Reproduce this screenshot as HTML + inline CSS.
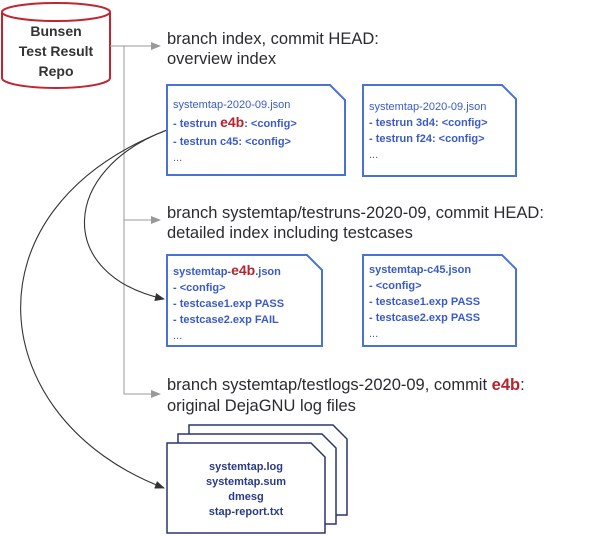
<!DOCTYPE html>
<html><head><meta charset="utf-8"><style>
html,body{margin:0;padding:0;background:#fff;}
svg{display:block;font-family:"Liberation Sans",sans-serif;}
.h{font-size:16.5px;fill:#2b2b30;}
.b{font-size:11px;fill:#3a5bc7;}
.c{font-size:11px;fill:#2a3a8a;font-weight:bold;}
.r{fill:#b8242c;font-size:14px;font-weight:bold;}
.box{fill:#fff;stroke:#4a72d6;stroke-width:2;}
.sbox{fill:#fff;stroke:#2a3570;stroke-width:1.5;}
</style></head><body>
<svg width="600" height="536" viewBox="0 0 600 536">
<defs>
<marker id="ga" markerWidth="10" markerHeight="8" refX="9" refY="4" orient="auto" markerUnits="userSpaceOnUse"><path d="M0,0 L10,4 L0,8 Z" fill="#999"/></marker>
<marker id="da" markerWidth="10" markerHeight="8" refX="9" refY="4" orient="auto" markerUnits="userSpaceOnUse"><path d="M0,0 L10,4 L0,8 Z" fill="#333"/></marker>
</defs>
<path d="M2,12 L2,78 A54,10 0 0 0 110,78 L110,12" fill="#fff" stroke="#c0262f" stroke-width="2"/>
<ellipse cx="56" cy="12" rx="54" ry="9" fill="#fff" stroke="#c0262f" stroke-width="2"/>
<g font-size="14" font-weight="bold" fill="#333" text-anchor="middle">
<text x="56" y="36">Bunsen</text><text x="56" y="56">Test Result</text><text x="56" y="76">Repo</text></g>
<g stroke="#999" stroke-width="1" fill="none">
<path d="M110,46 L160,46" marker-end="url(#ga)"/>
<path d="M124,46 L124,394 L160,394" marker-end="url(#ga)"/>
<path d="M124,220 L160,220" marker-end="url(#ga)"/>
</g>
<g stroke="#333" stroke-width="1.1" fill="none">
<path d="M167,130 C60,170 55,275 164,299" marker-end="url(#da)"/>
<path d="M167,130 C-40,210 -15,420 164,488" marker-end="url(#da)"/>
</g>
<text class="h" x="167" y="44">branch index, commit HEAD:</text>
<text class="h" x="167" y="64">overview index</text>
<text class="h" x="167" y="218">branch systemtap/testruns-2020-09, commit HEAD:</text>
<text class="h" x="167" y="238">detailed index including testcases</text>
<text class="h" x="167" y="390">branch systemtap/testlogs-2020-09, commit <tspan fill="#b8242c" font-weight="bold">e4b</tspan>:</text>
<text class="h" x="167" y="411">original DejaGNU log files</text>
<path class="box" d="M167,85 L330,85 L345,100 L345,175 L167,175 Z"/>
<text class="b" x="173" y="108">systemtap-2020-09.json</text>
<text class="b" x="173" y="127" font-weight="bold">- testrun <tspan class="r">e4b</tspan>: &lt;config&gt;</text>
<text class="b" x="173" y="145" font-weight="bold">- testrun c45: &lt;config&gt;</text>
<text class="b" x="173" y="161">...</text>
<path class="box" d="M363,85 L502,85 L516,99 L516,176 L363,176 Z"/>
<text class="b" x="369" y="110">systemtap-2020-09.json</text>
<text class="b" x="369" y="126" font-weight="bold">- testrun 3d4: &lt;config&gt;</text>
<text class="b" x="369" y="142" font-weight="bold">- testrun f24: &lt;config&gt;</text>
<text class="b" x="369" y="158">...</text>
<path class="box" d="M167,255 L307,255 L322,270 L322,346 L167,346 Z"/>
<text class="b" x="173" y="275" font-weight="bold">systemtap-<tspan class="r">e4b</tspan>.json</text>
<text class="b" x="173" y="291" font-weight="bold">- &lt;config&gt;</text>
<text class="b" x="173" y="307" font-weight="bold">- testcase1.exp PASS</text>
<text class="b" x="173" y="323" font-weight="bold">- testcase2.exp FAIL</text>
<text class="b" x="173" y="339">...</text>
<path class="box" d="M363,255 L502,255 L516,269 L516,346 L363,346 Z"/>
<text class="b" x="369" y="273" font-weight="bold">systemtap-c45.json</text>
<text class="b" x="369" y="289" font-weight="bold">- &lt;config&gt;</text>
<text class="b" x="369" y="305" font-weight="bold">- testcase1.exp PASS</text>
<text class="b" x="369" y="321" font-weight="bold">- testcase2.exp PASS</text>
<text class="b" x="369" y="337">...</text>
<path class="sbox" d="M189,425 L333,425 L347,439 L347,515 L189,515 Z"/>
<path class="sbox" d="M178,434 L322,434 L336,448 L336,524 L178,524 Z"/>
<path class="sbox" d="M167,443 L311,443 L325,457 L325,533 L167,533 Z"/>
<g text-anchor="middle">
<text class="c" x="246" y="470">systemtap.log</text>
<text class="c" x="246" y="485">systemtap.sum</text>
<text class="c" x="246" y="500">dmesg</text>
<text class="c" x="246" y="515">stap-report.txt</text>
</g>
</svg>
</body></html>
